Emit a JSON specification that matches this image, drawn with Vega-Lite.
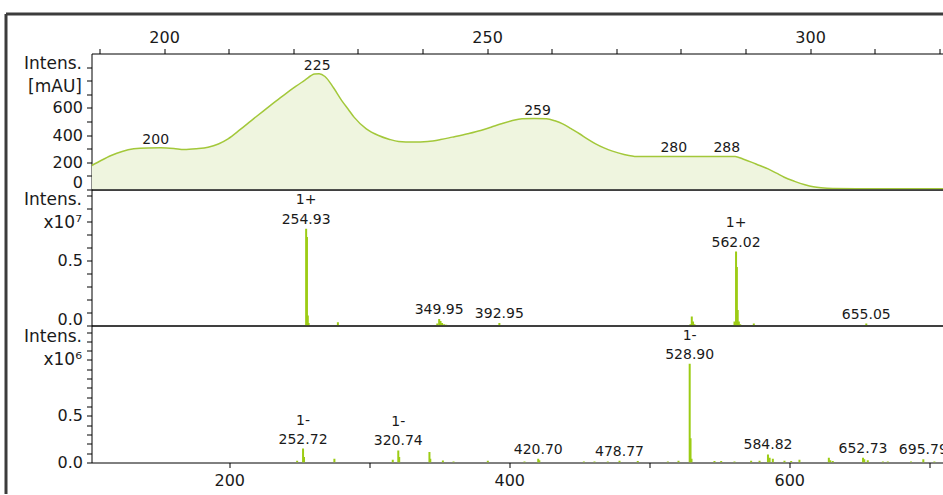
{
  "$schema": "https://vega.github.io/schema/vega-lite/v6.json",
  "padding": {"left": 3.5, "top": 11.5, "right": -2, "bottom": 0},
  "background": "white",
  "datasets": {
    "uv": [
      {"nm": 188.8, "mAU": 176}, {"nm": 190.3, "mAU": 215}, {"nm": 191.8, "mAU": 250}, {"nm": 193.5, "mAU": 280},
      {"nm": 195.3, "mAU": 299}, {"nm": 197.5, "mAU": 306}, {"nm": 199.5, "mAU": 307}, {"nm": 201.5, "mAU": 302},
      {"nm": 203.1, "mAU": 294}, {"nm": 205.0, "mAU": 300}, {"nm": 206.8, "mAU": 311}, {"nm": 208.4, "mAU": 335},
      {"nm": 209.9, "mAU": 373}, {"nm": 211.7, "mAU": 438}, {"nm": 213.5, "mAU": 507}, {"nm": 215.3, "mAU": 575},
      {"nm": 217.1, "mAU": 642}, {"nm": 218.7, "mAU": 700}, {"nm": 220.2, "mAU": 752}, {"nm": 221.8, "mAU": 805},
      {"nm": 223.3, "mAU": 849}, {"nm": 224.0, "mAU": 851}, {"nm": 224.9, "mAU": 831}, {"nm": 226.2, "mAU": 750},
      {"nm": 227.5, "mAU": 654}, {"nm": 228.5, "mAU": 590}, {"nm": 229.4, "mAU": 532}, {"nm": 231.3, "mAU": 446},
      {"nm": 233.2, "mAU": 397}, {"nm": 234.8, "mAU": 370}, {"nm": 236.3, "mAU": 353}, {"nm": 238.5, "mAU": 349},
      {"nm": 240.8, "mAU": 353}, {"nm": 242.8, "mAU": 367}, {"nm": 244.6, "mAU": 385}, {"nm": 247.0, "mAU": 410},
      {"nm": 249.0, "mAU": 434}, {"nm": 250.6, "mAU": 458}, {"nm": 252.2, "mAU": 483}, {"nm": 253.8, "mAU": 505},
      {"nm": 255.4, "mAU": 520}, {"nm": 257.3, "mAU": 522}, {"nm": 259.2, "mAU": 520}, {"nm": 260.5, "mAU": 505},
      {"nm": 261.7, "mAU": 483}, {"nm": 263.0, "mAU": 447}, {"nm": 264.3, "mAU": 410}, {"nm": 265.5, "mAU": 373},
      {"nm": 266.8, "mAU": 336}, {"nm": 268.1, "mAU": 306}, {"nm": 269.4, "mAU": 282}, {"nm": 271.2, "mAU": 258},
      {"nm": 273.2, "mAU": 243}, {"nm": 280.0, "mAU": 242}, {"nm": 286.0, "mAU": 243}, {"nm": 288.4, "mAU": 243},
      {"nm": 289.6, "mAU": 224}, {"nm": 290.9, "mAU": 201}, {"nm": 292.2, "mAU": 176}, {"nm": 293.5, "mAU": 152},
      {"nm": 294.8, "mAU": 120}, {"nm": 296.0, "mAU": 90}, {"nm": 297.6, "mAU": 60}, {"nm": 299.2, "mAU": 35},
      {"nm": 300.5, "mAU": 20}, {"nm": 301.7, "mAU": 12}, {"nm": 303.5, "mAU": 7}, {"nm": 310.0, "mAU": 6},
      {"nm": 320.65, "mAU": 6}
    ],
    "uvLabels": [
      {"nm": 198.7, "mAU": 307, "label": "200"},
      {"nm": 223.7, "mAU": 851, "label": "225"},
      {"nm": 257.8, "mAU": 522, "label": "259"},
      {"nm": 278.9, "mAU": 243, "label": "280"},
      {"nm": 287.1, "mAU": 243, "label": "288"}
    ],
    "pos": [
      {"mz": 254.93, "intensity": 7440000}, {"mz": 255.5, "intensity": 6800000}, {"mz": 256.1, "intensity": 770000},
      {"mz": 256.7, "intensity": 200000}, {"mz": 277.6, "intensity": 250000}, {"mz": 348.6, "intensity": 150000},
      {"mz": 349.95, "intensity": 500000}, {"mz": 350.9, "intensity": 350000}, {"mz": 352.0, "intensity": 200000},
      {"mz": 353.5, "intensity": 100000}, {"mz": 355.0, "intensity": 50000}, {"mz": 392.95, "intensity": 200000},
      {"mz": 529.4, "intensity": 100000}, {"mz": 530.4, "intensity": 700000}, {"mz": 531.3, "intensity": 300000},
      {"mz": 532.3, "intensity": 100000}, {"mz": 560.9, "intensity": 300000}, {"mz": 562.02, "intensity": 5690000},
      {"mz": 562.6, "intensity": 4500000}, {"mz": 563.2, "intensity": 1200000}, {"mz": 564.0, "intensity": 300000},
      {"mz": 565.0, "intensity": 100000}, {"mz": 574.7, "intensity": 150000}, {"mz": 655.05, "intensity": 150000}
    ],
    "posLabels": [
      {"mz": 254.93, "intensity": 7440000, "label": "254.93", "charge": "1+"},
      {"mz": 349.95, "intensity": 500000, "label": "349.95", "charge": ""},
      {"mz": 392.95, "intensity": 200000, "label": "392.95", "charge": ""},
      {"mz": 562.02, "intensity": 5690000, "label": "562.02", "charge": "1+"},
      {"mz": 655.05, "intensity": 150000, "label": "655.05", "charge": ""}
    ],
    "neg": [
      {"mz": 248.5, "intensity": 20000}, {"mz": 252.72, "intensity": 149000}, {"mz": 253.4, "intensity": 60000},
      {"mz": 275.1, "intensity": 40000}, {"mz": 316.8, "intensity": 30000}, {"mz": 320.74, "intensity": 130000},
      {"mz": 321.4, "intensity": 60000}, {"mz": 343.0, "intensity": 112000}, {"mz": 343.6, "intensity": 40000},
      {"mz": 352.6, "intensity": 22000}, {"mz": 360.2, "intensity": 10000}, {"mz": 384.7, "intensity": 20000},
      {"mz": 410.9, "intensity": 10000}, {"mz": 420.7, "intensity": 40000}, {"mz": 421.5, "intensity": 25000},
      {"mz": 453.3, "intensity": 10000}, {"mz": 460.9, "intensity": 10000}, {"mz": 470.4, "intensity": 10000},
      {"mz": 478.77, "intensity": 20000}, {"mz": 491.8, "intensity": 15000}, {"mz": 513.3, "intensity": 10000},
      {"mz": 520.9, "intensity": 20000}, {"mz": 528.9, "intensity": 1059000}, {"mz": 529.5, "intensity": 260000},
      {"mz": 530.2, "intensity": 40000}, {"mz": 546.6, "intensity": 15000}, {"mz": 551.4, "intensity": 15000},
      {"mz": 560.9, "intensity": 10000}, {"mz": 572.8, "intensity": 20000}, {"mz": 578.8, "intensity": 20000},
      {"mz": 584.82, "intensity": 87000}, {"mz": 586.0, "intensity": 50000}, {"mz": 588.3, "intensity": 40000},
      {"mz": 596.6, "intensity": 20000}, {"mz": 601.4, "intensity": 15000}, {"mz": 607.3, "intensity": 30000},
      {"mz": 628.3, "intensity": 51000}, {"mz": 629.3, "intensity": 25000}, {"mz": 631.1, "intensity": 15000},
      {"mz": 652.73, "intensity": 50000}, {"mz": 653.6, "intensity": 35000}, {"mz": 656.1, "intensity": 25000},
      {"mz": 666.9, "intensity": 10000}, {"mz": 670.4, "intensity": 10000}, {"mz": 687.0, "intensity": 10000},
      {"mz": 695.79, "intensity": 35000}, {"mz": 703.7, "intensity": 10000}
    ],
    "negLabels": [
      {"mz": 252.72, "intensity": 149000, "label": "252.72", "charge": "1-"},
      {"mz": 320.74, "intensity": 130000, "label": "320.74", "charge": "1-"},
      {"mz": 420.7, "intensity": 40000, "label": "420.70", "charge": ""},
      {"mz": 478.77, "intensity": 20000, "label": "478.77", "charge": ""},
      {"mz": 528.9, "intensity": 1059000, "label": "528.90", "charge": "1-"},
      {"mz": 584.82, "intensity": 87000, "label": "584.82", "charge": ""},
      {"mz": 652.73, "intensity": 50000, "label": "652.73", "charge": ""},
      {"mz": 695.79, "intensity": 35000, "label": "695.79", "charge": ""}
    ]
  },
  "vconcat": [
    {
      "width": 852,
      "height": 136,
      "resolve": {"axis": {"x": "independent", "y": "independent"}},
      "layer": [
        {
          "data": {"name": "uv"},
          "mark": {"type": "area", "interpolate": "monotone", "fill": "#eff5df", "clip": true},
          "encoding": {
            "x": {"field": "nm", "type": "quantitative", "scale": {"domain": [188.76, 320.65], "nice": false, "zero": false},
              "axis": {"orient": "top", "values": [190, 200, 210, 220, 230, 240, 250, 260, 270, 280, 290, 300, 310, 320],
                "labelExpr": "datum.value % 50 === 0 ? datum.label : ''", "tickSize": 5, "labelPadding": 3,
                "domain": false, "grid": false, "title": null, "labelOverlap": false, "labelFontSize": 16}},
            "y": {"field": "mAU", "type": "quantitative", "scale": {"domain": [0, 1000], "nice": false},
              "axis": {"orient": "left", "values": [0, 200, 400, 600],
                "labelFlush": true, "labelFlushOffset": 1, "labelOverlap": false, "tickSize": 5, "labelPadding": 4, "domain": false, "grid": false,
                "labelFontSize": 16,
                "title": ["Intens.", "[mAU]"], "titleAngle": 0, "titleAlign": "right", "titleBaseline": "top",
                "titleX": -10, "titleY": 2, "titleLineHeight": 23, "titleFontSize": 17, "titleFontWeight": "normal"}}
          }
        },
        {
          "data": {"name": "uv"},
          "mark": {"type": "line", "interpolate": "monotone", "color": "#a3c83a", "strokeWidth": 1.5, "clip": true},
          "encoding": {
            "x": {"field": "nm", "type": "quantitative",
              "axis": {"orient": "top", "offset": 40, "values": [188.76], "tickOffset": -86, "tickSize": -480,
                "tickWidth": 3, "tickColor": "#3c3c3c", "domain": true, "domainWidth": 3, "domainColor": "#3c3c3c",
                "labels": false, "grid": false, "title": null}},
            "y": {"field": "mAU", "type": "quantitative",
              "axis": {"orient": "left", "values": [1000], "tickOffset": -40, "tickSize": 86, "tickWidth": 3,
                "tickColor": "#3c3c3c", "domain": false, "labels": false, "grid": false, "title": null}}
          }
        },
        {
          "data": {"name": "uvLabels"},
          "mark": {"type": "text", "fontSize": 14, "baseline": "alphabetic", "dy": -4, "color": "#1a1a1a", "font": "DejaVu Sans", "clip": true},
          "encoding": {
            "x": {"field": "nm", "type": "quantitative", "axis": null},
            "y": {"field": "mAU", "type": "quantitative",
              "axis": {"orient": "left", "values": [100, 300, 500, 700, 800, 900], "labels": false, "tickSize": 5,
                "domain": false, "grid": false, "title": null}},
            "text": {"field": "label"}
          }
        }
      ]
    },
    {
      "width": 852,
      "height": 136,
      "resolve": {"axis": {"y": "independent"}},
      "layer": [
        {
          "data": {"name": "pos"},
          "mark": {"type": "rule", "color": "#9ccc14", "strokeWidth": 2, "clip": true},
          "encoding": {
            "x": {"field": "mz", "type": "quantitative", "scale": {"domain": [101.6, 710.2], "nice": false, "zero": false}, "axis": null},
            "y": {"field": "intensity", "type": "quantitative", "scale": {"domain": [0, 10460000], "nice": false},
              "axis": {"orient": "left", "values": [0, 5000000],
                "labelExpr": "format(datum.value / 10000000, '.1f')",
                "labelFlush": true, "labelFlushOffset": 2, "labelOverlap": false, "tickSize": 5, "labelPadding": 4, "domain": false, "grid": false,
                "labelFontSize": 16,
                "title": ["Intens.", "x10⁷"], "titleAngle": 0, "titleAlign": "right", "titleBaseline": "top",
                "titleX": -10, "titleY": 2, "titleLineHeight": 23, "titleFontSize": 17, "titleFontWeight": "normal"}},
            "y2": {"datum": 0}
          }
        },
        {
          "data": {"name": "posLabels"},
          "mark": {"type": "text", "fontSize": 14, "baseline": "alphabetic", "dy": -5, "color": "#1a1a1a", "font": "DejaVu Sans", "clip": true},
          "encoding": {
            "x": {"field": "mz", "type": "quantitative"},
            "y": {"field": "intensity", "type": "quantitative",
              "axis": {"orient": "left", "values": [1000000, 2000000, 3000000, 4000000, 6000000, 7000000, 8000000, 9000000, 10000000],
                "labels": false, "tickSize": 5, "domain": false, "grid": false, "title": null}},
            "text": {"field": "label"}
          }
        },
        {
          "data": {"name": "posLabels"},
          "mark": {"type": "text", "fontSize": 14, "baseline": "alphabetic", "dy": -25, "color": "#1a1a1a", "font": "DejaVu Sans", "clip": true},
          "encoding": {
            "x": {"field": "mz", "type": "quantitative"},
            "y": {"field": "intensity", "type": "quantitative", "axis": null},
            "text": {"field": "charge"}
          }
        }
      ]
    },
    {
      "width": 852,
      "height": 137,
      "resolve": {"axis": {"y": "independent"}},
      "layer": [
        {
          "data": {"name": "neg"},
          "mark": {"type": "rule", "color": "#9ccc14", "strokeWidth": 2, "clip": true},
          "encoding": {
            "x": {"field": "mz", "type": "quantitative", "scale": {"domain": [101.6, 710.2], "nice": false, "zero": false},
              "axis": {"orient": "bottom", "values": [200, 300, 400, 500, 600, 700],
                "labelExpr": "datum.value % 200 === 0 ? datum.label : ''", "tickSize": 5, "labelPadding": 5,
                "domain": false, "grid": false, "title": null, "labelOverlap": false, "labelFontSize": 16}},
            "y": {"field": "intensity", "type": "quantitative", "scale": {"domain": [0, 1470000], "nice": false},
              "axis": {"orient": "left", "values": [0, 500000],
                "labelExpr": "format(datum.value / 1000000, '.1f')",
                "labelOverlap": false, "tickSize": 5, "labelPadding": 4, "domain": false, "grid": false,
                "labelFontSize": 16,
                "title": ["Intens.", "x10⁶"], "titleAngle": 0, "titleAlign": "right", "titleBaseline": "top",
                "titleX": -10, "titleY": 3, "titleLineHeight": 23, "titleFontSize": 17, "titleFontWeight": "normal"}},
            "y2": {"datum": 0}
          }
        },
        {
          "data": {"name": "negLabels"},
          "mark": {"type": "text", "fontSize": 14, "baseline": "alphabetic", "dy": -5, "color": "#1a1a1a", "font": "DejaVu Sans", "clip": true},
          "encoding": {
            "x": {"field": "mz", "type": "quantitative"},
            "y": {"field": "intensity", "type": "quantitative",
              "axis": {"orient": "left", "values": [100000, 200000, 300000, 400000, 600000, 700000, 800000, 900000, 1000000, 1100000, 1200000, 1300000, 1400000],
                "labels": false, "tickSize": 5, "domain": false, "grid": false, "title": null}},
            "text": {"field": "label"}
          }
        },
        {
          "data": {"name": "negLabels"},
          "mark": {"type": "text", "fontSize": 14, "baseline": "alphabetic", "dy": -24, "color": "#1a1a1a", "font": "DejaVu Sans", "clip": true},
          "encoding": {
            "x": {"field": "mz", "type": "quantitative"},
            "y": {"field": "intensity", "type": "quantitative", "axis": null},
            "text": {"field": "charge"}
          }
        }
      ]
    }
  ],
  "spacing": 0,
  "bounds": "flush",
  "resolve": {"scale": {"x": "independent", "y": "independent"}},
  "config": {
    "font": "DejaVu Sans",
    "view": {"stroke": "#000000", "strokeWidth": 1},
    "axis": {"labelFont": "DejaVu Sans", "titleFont": "DejaVu Sans", "labelColor": "#1a1a1a", "titleColor": "#1a1a1a",
      "tickColor": "#000000", "domainColor": "#000000"}
  }
}
